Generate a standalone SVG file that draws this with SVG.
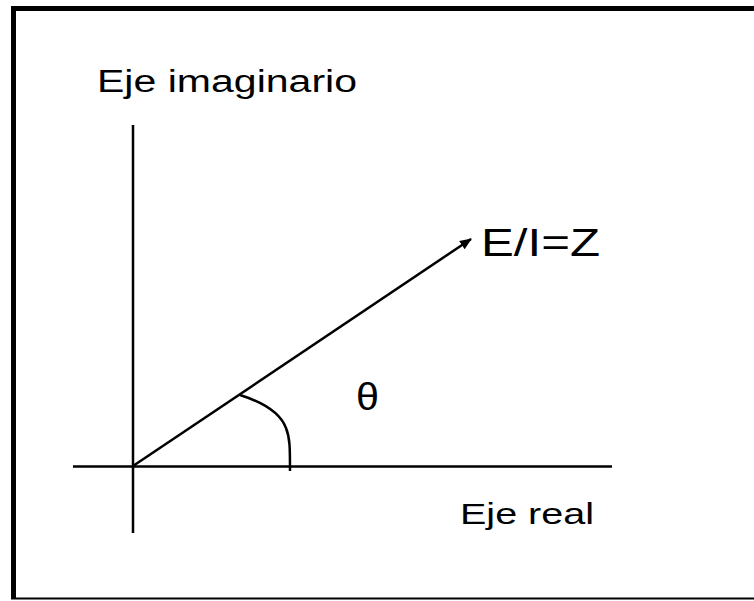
<svg xmlns="http://www.w3.org/2000/svg" width="754" height="601" viewBox="0 0 754 601">
<defs>
<style>
.ax{stroke:#000;stroke-width:2.5;fill:none}
.lbl{font-family:"Liberation Sans",Arial,sans-serif;fill:#000}
</style>
<marker id="ah" viewBox="0 0 12 10" refX="11" refY="5" markerWidth="12" markerHeight="10" markerUnits="userSpaceOnUse" orient="auto">
<path d="M0,0 L12,5 L0,10 Z" fill="#000"/>
</marker>
</defs>
<rect width="754" height="601" fill="#fff"/>
<g id="frame">
<line x1="11" y1="8.5" x2="754" y2="8.5" stroke="#000" stroke-width="5"/>
<line x1="13.5" y1="6" x2="13.5" y2="599" stroke="#000" stroke-width="5"/>
<line x1="11" y1="598.5" x2="754" y2="598.5" stroke="#000" stroke-width="2"/>
</g>
<g id="connectors">
<line id="imag-axis" class="ax" x1="133" y1="125" x2="133" y2="533"/>
<line id="real-axis" class="ax" x1="73" y1="466.5" x2="612" y2="466.5"/>
<line id="vector" class="ax" x1="133" y1="466" x2="471" y2="239" marker-end="url(#ah)"/>
<path id="angle-arc" class="ax" d="M240,395 C262,402 280,412 286,428 C290,438 290,448 290,471"/>
</g>
<g id="label-imag"><text class="lbl" x="97" y="92" font-size="31" textLength="260" lengthAdjust="spacingAndGlyphs">Eje imaginario</text></g>
<g id="label-z"><text class="lbl" x="481" y="256" font-size="38" textLength="119" lengthAdjust="spacingAndGlyphs">E/I=Z</text></g>
<g id="label-theta"><text class="lbl" x="356" y="410" font-size="38" textLength="23" lengthAdjust="spacingAndGlyphs">θ</text></g>
<g id="label-real"><text class="lbl" x="460" y="524" font-size="30" textLength="134" lengthAdjust="spacingAndGlyphs">Eje real</text></g>
</svg>
